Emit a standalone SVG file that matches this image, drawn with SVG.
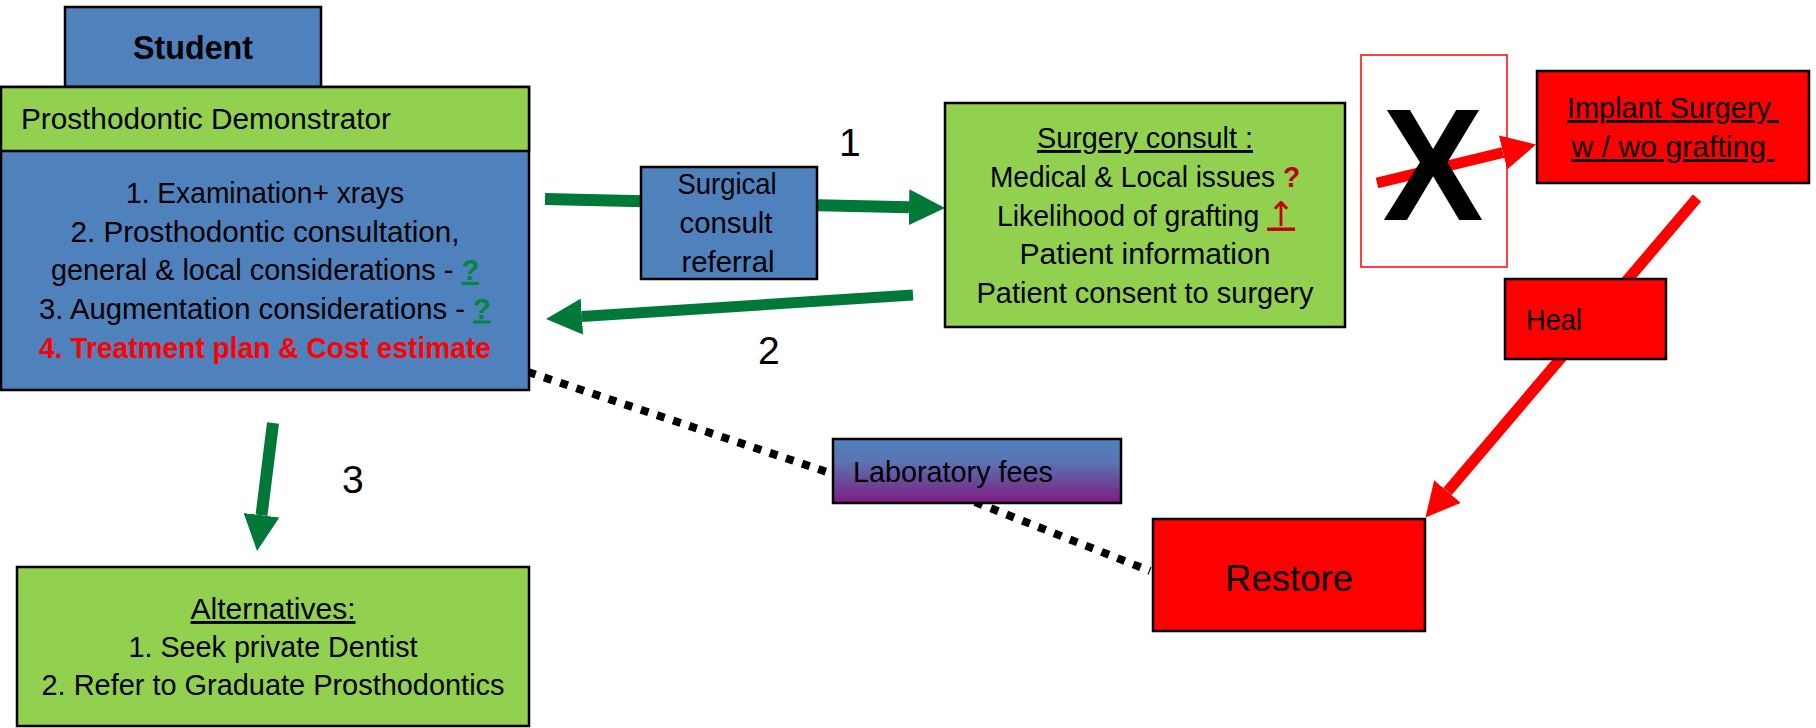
<svg xmlns="http://www.w3.org/2000/svg" width="1816" height="728" viewBox="0 0 1816 728">
  <defs>
    <style>
      .t { font-family: "Liberation Sans", Arial, sans-serif; font-size: 29px; fill: #000; }
      .c { text-anchor: middle; }
      .num { font-family: "Liberation Sans", Arial, sans-serif; font-size: 39px; fill: #000; }
      .blue { fill: #4F81BD; stroke: #000; stroke-width: 2.5; }
      .green { fill: #92D050; stroke: #000; stroke-width: 2.5; }
      .red { fill: #FF0000; stroke: #000; stroke-width: 2.5; }
      .u { text-decoration: underline; }
      .q-green { fill: #00873C; font-weight: bold; text-decoration: underline; }
      .q-red { fill: #C00000; font-weight: bold; }
      .up { fill: #C00000; text-decoration: underline; font-family: "DejaVu Sans", sans-serif; font-size: 34px; }
      .g-arrow { fill: none; stroke: #007838; stroke-width: 12; marker-end: url(#head-green); }
      .r-arrow { fill: none; stroke: #FF0000; stroke-width: 11; marker-end: url(#head-red); }
      .dots { fill: none; stroke: #000; stroke-width: 8; stroke-dasharray: 8 9; }
    </style>
    <marker id="head-green" markerUnits="userSpaceOnUse" viewBox="0 0 36 36" markerWidth="36" markerHeight="36" refX="0" refY="18" orient="auto">
      <path d="M0,0 L36,18 L0,36 z" fill="#007838"/>
    </marker>
    <marker id="head-red" markerUnits="userSpaceOnUse" viewBox="0 0 34 35" markerWidth="34" markerHeight="35" refX="0" refY="17.5" orient="auto">
      <path d="M0,0 L34,17.5 L0,35 z" fill="#FF0000"/>
    </marker>
    <linearGradient id="lab-fill" x1="0" y1="0" x2="0" y2="1">
      <stop offset="0" stop-color="#4F81BD"/>
      <stop offset="0.35" stop-color="#5A75B2"/>
      <stop offset="1" stop-color="#7E1A7E"/>
    </linearGradient>
  </defs>

  <rect width="1816" height="728" fill="#FFFFFF"/>

  <!-- connectors -->
  <g id="connectors">
    <!-- 1: demonstrator to surgery consult, through the referral -->
    <line class="g-arrow" x1="545" y1="199" x2="909" y2="207.2"/>
    <text class="num" x="839" y="156">1</text>
    <!-- 2: surgery consult back to demonstrator -->
    <line class="g-arrow" x1="913" y1="295" x2="581.9" y2="316.6" style="stroke-width:11"/>
    <text class="num" x="758" y="364">2</text>
    <!-- 3: demonstrator to alternatives -->
    <line class="g-arrow" x1="273" y1="423" x2="261.5" y2="515.3"/>
    <text class="num" x="342" y="493">3</text>
    <!-- blocked path to implant surgery -->
    <line class="r-arrow" x1="1377" y1="183" x2="1503" y2="152.5"/>
    <!-- implant surgery, heal, restore -->
    <line class="r-arrow" x1="1697" y1="198" x2="1447.5" y2="491.5"/>
    <!-- laboratory fees links -->
    <line class="dots" x1="528" y1="372" x2="833" y2="474"/>
    <line class="dots" x1="975" y1="502" x2="1150" y2="571"/>
  </g>

  <!-- student / demonstrator block -->
  <g id="student">
    <rect class="blue" x="65" y="7" width="256" height="80"/>
    <text class="t c" x="193" y="59" style="font-size:33px;font-weight:bold" textLength="120" lengthAdjust="spacingAndGlyphs">Student</text>
  </g>

  <g id="demonstrator">
    <rect class="blue" x="1" y="87" width="528" height="303"/>
    <rect class="green" x="1" y="87" width="528" height="64"/>
    <text class="t" x="21" y="129" textLength="370" lengthAdjust="spacingAndGlyphs">Prosthodontic Demonstrator</text>
    <text class="t c" x="265" y="203" textLength="278" lengthAdjust="spacingAndGlyphs">1. Examination+ xrays</text>
    <text class="t c" x="265" y="241.5" textLength="389" lengthAdjust="spacingAndGlyphs">2. Prosthodontic consultation,</text>
    <text class="t c" x="265" y="280" textLength="428" lengthAdjust="spacingAndGlyphs">general &amp; local considerations - <tspan class="q-green">?</tspan></text>
    <text class="t c" x="265" y="318.5" textLength="452" lengthAdjust="spacingAndGlyphs">3. Augmentation considerations - <tspan class="q-green">?</tspan></text>
    <text class="t c" x="265" y="357.5" style="fill:#FF0000;font-weight:bold" textLength="452" lengthAdjust="spacingAndGlyphs">4. Treatment plan &amp; Cost estimate</text>
  </g>

  <g id="referral">
    <rect class="blue" x="641" y="167" width="176" height="112"/>
    <text class="t c" x="727" y="194" textLength="99" lengthAdjust="spacingAndGlyphs">Surgical</text>
    <text class="t c" x="726" y="233" textLength="93" lengthAdjust="spacingAndGlyphs">consult</text>
    <text class="t c" x="728" y="272" textLength="93" lengthAdjust="spacingAndGlyphs">referral</text>
  </g>

  <g id="surgery-consult">
    <rect class="green" x="945" y="103" width="400" height="224"/>
    <text class="t c u" x="1145" y="148" textLength="216" lengthAdjust="spacingAndGlyphs">Surgery consult :</text>
    <text class="t c" x="1145" y="187" textLength="310" lengthAdjust="spacingAndGlyphs">Medical &amp; Local issues <tspan class="q-red">?</tspan></text>
    <text class="t c" x="1146" y="225.5" textLength="298" lengthAdjust="spacingAndGlyphs">Likelihood of grafting <tspan class="up">↑</tspan></text>
    <text class="t c" x="1145" y="264" textLength="251" lengthAdjust="spacingAndGlyphs">Patient information</text>
    <text class="t c" x="1145" y="302.5" textLength="337" lengthAdjust="spacingAndGlyphs">Patient consent to surgery</text>
  </g>

  <g id="blocked">
    <rect x="1361" y="55" width="146" height="212" fill="none" stroke="#FF0000" stroke-width="1.5"/>
    <text x="1433" y="220" text-anchor="middle" style="font-family:'Liberation Sans',Arial,sans-serif;font-size:160px;font-weight:bold;fill:#000" textLength="101" lengthAdjust="spacingAndGlyphs">X</text>
  </g>

  <g id="implant-surgery">
    <rect class="red" x="1537" y="71" width="272" height="112"/>
    <text class="t c u" x="1673" y="118" textLength="212" lengthAdjust="spacingAndGlyphs">Implant Surgery&#160;</text>
    <text class="t c u" x="1673" y="157" textLength="203" lengthAdjust="spacingAndGlyphs">w / wo grafting&#160;</text>
  </g>

  <g id="heal">
    <rect class="red" x="1505" y="279" width="161" height="80"/>
    <text class="t" x="1526" y="330" textLength="56" lengthAdjust="spacingAndGlyphs">Heal</text>
  </g>

  <g id="laboratory-fees">
    <rect x="833" y="439" width="288" height="64" fill="url(#lab-fill)" stroke="#000" stroke-width="2.5"/>
    <text class="t" x="853" y="482" textLength="200" lengthAdjust="spacingAndGlyphs">Laboratory fees</text>
  </g>

  <g id="restore">
    <rect class="red" x="1153" y="519" width="272" height="112"/>
    <text class="t c" x="1289" y="591" style="font-size:36px" textLength="128" lengthAdjust="spacingAndGlyphs">Restore</text>
  </g>

  <g id="alternatives">
    <rect class="green" x="17" y="567" width="512" height="159"/>
    <text class="t c u" x="273" y="619" textLength="165" lengthAdjust="spacingAndGlyphs">Alternatives:</text>
    <text class="t c" x="273" y="657" textLength="289" lengthAdjust="spacingAndGlyphs">1. Seek private Dentist</text>
    <text class="t c" x="273" y="695" textLength="463" lengthAdjust="spacingAndGlyphs">2. Refer to Graduate Prosthodontics</text>
  </g>
</svg>
